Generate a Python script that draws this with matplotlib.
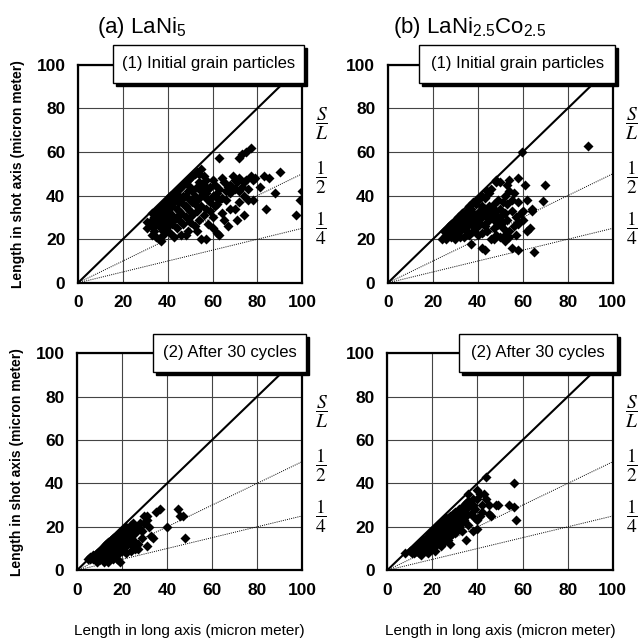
import matplotlib
matplotlib.use("Agg")
import matplotlib.pyplot as plt
from matplotlib.patches import Rectangle
import numpy as np

plt.rcParams['font.family'] = ['Liberation Sans', 'DejaVu Sans']
plt.rcParams['mathtext.fontset'] = 'stix'

# (a) LaNi5, initial grain particles: long axis / short axis (micron meter)
a1_pts = [
    (33, 32), (34, 30), (35, 33), (36, 34), (37, 35), (38, 36), (39, 37), (40, 38), (41, 40), (42, 39),
    (43, 41), (44, 42), (45, 43), (46, 44), (47, 45), (48, 46), (49, 47), (50, 48), (51, 49), (52, 50),
    (53, 51), (54, 50), (55, 52), (56, 49),
    (32, 28), (33, 26), (34, 24), (35, 27), (36, 29), (37, 31), (38, 28), (39, 30), (40, 33), (41, 35),
    (42, 31), (43, 29), (44, 34), (45, 37), (46, 32), (47, 36), (48, 40), (49, 34), (50, 38), (51, 42),
    (52, 36), (53, 44), (54, 39), (55, 35), (56, 45), (57, 41), (58, 38), (59, 44), (60, 47), (61, 40),
    (62, 36), (63, 43), (64, 39), (65, 46), (66, 38), (67, 44), (68, 41), (69, 49), (70, 43), (71, 46),
    (72, 42), (73, 44), (74, 40), (75, 47), (76, 43), (77, 49), (78, 47), (79, 48),
    (31, 25), (31, 28), (33, 22), (35, 21), (36, 20), (37, 19), (38, 24), (40, 26), (41, 23), (42, 27),
    (44, 25), (45, 29), (46, 22), (47, 27), (48, 30), (49, 24), (50, 28), (51, 31), (52, 26), (53, 33),
    (54, 29), (55, 20), (56, 31), (57, 20), (58, 27), (59, 33), (60, 30), (61, 35), (62, 23), (63, 22),
    (64, 32), (65, 29), (67, 26), (68, 34), (70, 34), (71, 29), (72, 37), (74, 31), (76, 38),
    (34, 28), (35, 30), (36, 26), (37, 28), (38, 33), (39, 25), (40, 29), (41, 31), (42, 35), (43, 37),
    (44, 30), (45, 33), (46, 38), (47, 40), (48, 35), (49, 42), (50, 44), (51, 37), (52, 40), (53, 38),
    (54, 46), (55, 42), (56, 40), (57, 47), (58, 43), (59, 37), (60, 40), (61, 45), (62, 41), (63, 38),
    (64, 48), (66, 42), (68, 45), (70, 47), (72, 48), (74, 46), (38, 22), (43, 21), (39, 34), (44, 38),
    (50, 33), (53, 24), (57, 34), (60, 25), (48, 22), (45, 40),
    (63, 57), (72, 57), (73, 59), (75, 60), (77, 62), (81, 44), (83, 49), (84, 34), (85, 48), (88, 41),
    (90, 51), (97, 31), (99, 38), (100, 42), (78, 38),
]

# (b) LaNi2.5Co2.5, initial grain particles
b1_pts = [
    (25, 24), (26, 22), (27, 25), (28, 27), (29, 26), (30, 28), (31, 30), (32, 29), (33, 32), (34, 31),
    (35, 33), (36, 35), (37, 34), (38, 37), (39, 36), (40, 38), (41, 39), (42, 40), (43, 39), (44, 42),
    (45, 41), (46, 43), (48, 46), (50, 46),
    (26, 20), (27, 23), (28, 21), (29, 24), (30, 22), (31, 26), (32, 24), (33, 27), (34, 25), (35, 29),
    (36, 27), (37, 30), (38, 28), (39, 31), (40, 29), (41, 33), (42, 30), (43, 34), (44, 32), (45, 35),
    (46, 31), (47, 36), (48, 33), (49, 38), (50, 34), (51, 37), (52, 40), (53, 36), (54, 42), (55, 38),
    (56, 41), (58, 37), (59, 32), (60, 33), (62, 38), (64, 34),
    (30, 25), (31, 23), (32, 27), (33, 30), (34, 28), (35, 26), (36, 30), (37, 27), (38, 32), (39, 28),
    (40, 32), (41, 27), (42, 35), (43, 31), (44, 28), (45, 30), (46, 34), (47, 29), (48, 31), (49, 27),
    (50, 30), (51, 28), (52, 32), (53, 29), (55, 33), (57, 30), (58, 27), (56, 26), (54, 24), (52, 22),
    (50, 21), (48, 22), (46, 20), (44, 24), (42, 23), (40, 22), (38, 24), (36, 22), (34, 21), (32, 21),
    (30, 20), (35, 24), (39, 25), (43, 26), (47, 25), (51, 25),
    (24, 20), (27, 26), (37, 18), (42, 16), (43, 15), (47, 20), (52, 19), (54, 21), (55, 16), (58, 15),
    (60, 29), (62, 24), (63, 25), (64, 33), (65, 14), (58, 28), (57, 22), (61, 45), (58, 48), (54, 47),
    (48, 47), (53, 45),
    (59.5, 60), (89, 62.5), (70, 45), (69, 37.5),
]

# (a) LaNi5, after 30 cycles
a2_pts = [
    (5, 5), (6, 6), (6, 5), (7, 6), (7, 5), (7, 7), (8, 7), (8, 6), (8, 5), (9, 8), (9, 7), (9, 6),
    (9, 5), (10, 9), (10, 8), (10, 7), (10, 6), (10, 5), (11, 10), (11, 8), (11, 7), (11, 6), (11, 5),
    (12, 11), (12, 9), (12, 8), (12, 7), (12, 6), (12, 4), (13, 12), (13, 10), (13, 9), (13, 7), (13, 5),
    (14, 13), (14, 11), (14, 10), (14, 8), (14, 6), (15, 14), (15, 12), (15, 10), (15, 9), (15, 7),
    (16, 15), (16, 13), (16, 11), (16, 9), (16, 7), (17, 14), (17, 12), (17, 10), (17, 8), (18, 16),
    (18, 14), (18, 12), (18, 9), (18, 5), (19, 17), (19, 15), (19, 13), (19, 10), (20, 18), (20, 16),
    (20, 14), (20, 11), (20, 9), (21, 19), (21, 17), (21, 15), (21, 12), (22, 20), (22, 17), (22, 14),
    (22, 11), (23, 18), (23, 15), (23, 13), (24, 21), (24, 19), (24, 16), (24, 12), (25, 22), (25, 18),
    (25, 14), (26, 20), (26, 17), (27, 20), (27, 12), (28, 22), (28, 19), (29, 18), (30, 22), (30, 25),
    (31, 25), (31, 23), (31, 11), (32, 20), (33, 16), (34, 15), (35, 27), (37, 28), (40, 20), (45, 28),
    (46, 25), (47, 25), (48, 15), (26, 10), (27, 10), (19, 4), (14, 4), (9, 4), (16, 5), (22, 8),
    (24, 9), (29, 15), (18, 7),
]

# (b) LaNi2.5Co2.5, after 30 cycles
b2_pts = [
    (8, 8), (10, 9), (11, 8), (12, 10), (12, 8), (13, 11), (13, 9), (14, 12), (14, 10), (14, 8),
    (15, 13), (15, 11), (15, 9), (16, 14), (16, 12), (16, 10), (17, 15), (17, 13), (17, 11), (17, 9),
    (18, 16), (18, 14), (18, 12), (18, 10), (19, 17), (19, 15), (19, 13), (19, 11), (20, 18), (20, 16),
    (20, 14), (20, 12), (20, 10), (21, 19), (21, 17), (21, 15), (21, 13), (21, 11), (22, 20), (22, 18),
    (22, 16), (22, 14), (22, 12), (23, 21), (23, 19), (23, 17), (23, 15), (23, 13), (24, 22), (24, 20),
    (24, 18), (24, 16), (24, 14), (24, 11), (25, 23), (25, 19), (25, 17), (25, 13), (26, 24), (26, 21),
    (26, 18), (26, 15), (27, 24), (27, 20), (27, 17), (28, 25), (28, 22), (28, 19), (28, 16), (29, 26),
    (29, 23), (29, 20), (30, 27), (30, 24), (30, 21), (30, 17), (31, 25), (31, 22), (31, 19), (32, 28),
    (32, 24), (32, 20), (33, 26), (33, 22), (34, 30), (34, 27), (34, 23), (35, 31), (35, 28), (35, 25),
    (35, 14), (36, 35), (36, 32), (36, 29), (36, 21), (37, 30), (37, 26), (38, 33), (38, 30), (38, 18),
    (39, 28), (39, 24), (40, 37), (40, 33), (40, 23), (40, 19), (41, 35), (41, 25), (42, 30), (42, 27),
    (43, 35), (44, 43), (44, 33), (45, 30), (45, 26), (46, 25), (48, 30), (49, 30), (54, 30), (56, 40),
    (56, 29), (57, 23), (28, 12), (27, 14), (33, 18), (18, 8), (21, 9), (15, 7),
]

titles = [r"(a) LaNi$\mathregular{_5}$", r"(b) LaNi$\mathregular{_{2.5}}$Co$\mathregular{_{2.5}}$"]
box_labels = ["(1) Initial grain particles", "(2) After 30 cycles"]
ticks = [0, 20, 40, 60, 80, 100]
ratios = [1, 0.5, 0.25]
ratio_labels = [r"$\dfrac{S}{L}$", r"$\dfrac{1}{2}$", r"$\dfrac{1}{4}$"]
ratio_label_y = [73, 48.5, 25]

fig = plt.figure(figsize=(6.39, 6.40), dpi=100)
positions = [
    [0.122, 0.558, 0.351, 0.341],
    [0.607, 0.558, 0.352, 0.341],
    [0.1205, 0.109, 0.352, 0.339],
    [0.606, 0.109, 0.353, 0.339],
]
data = [a1_pts, b1_pts, a2_pts, b2_pts]
# box extents (x0, width) in data units
boxes = [(15.5, 85.5), (14, 87), (34, 68), (32, 70)]

for i, (pos, pts) in enumerate(zip(positions, data)):
    ax = fig.add_axes(pos)
    ax.set_xlim(0, 100)
    ax.set_ylim(0, 100)
    ax.set_xticks(ticks)
    ax.set_yticks(ticks)
    ax.grid(True, color='#444444', linewidth=0.8)
    ax.tick_params(length=0, pad=9, labelsize=12.5)
    for lab in ax.get_xticklabels() + ax.get_yticklabels():
        lab.set_fontweight('bold')
    for sp in ax.spines.values():
        sp.set_linewidth(1.6)

    xs = np.array([0, 100])
    ax.plot(xs, xs * ratios[0], color='black', linewidth=1.5, zorder=3)
    ax.plot(xs, xs * ratios[1], color='black', linestyle=(0, (1, 1.2)), linewidth=0.7, zorder=3)
    ax.plot(xs, xs * ratios[2], color='black', linestyle=(0, (1, 1.2)), linewidth=0.7, zorder=3)

    p = np.array(pts, dtype=float)
    ax.scatter(p[:, 0], p[:, 1], marker='D', s=26, color='black', linewidths=0, zorder=4)

    for lab, yy in zip(ratio_labels, ratio_label_y):
        ax.text(108.5, yy, lab, fontsize=14, ha='center', va='center', clip_on=False)

    x0, w = boxes[i]
    ax.add_patch(Rectangle((x0 + 1.3, 91.5 - 1.3), w, 17.5, facecolor='black',
                           edgecolor='black', clip_on=False, zorder=5))
    ax.add_patch(Rectangle((x0, 91.5), w, 17.5, facecolor='white', edgecolor='black',
                           linewidth=1.0, clip_on=False, zorder=6))
    ax.text(x0 + w / 2, 100.3, box_labels[i // 2], fontsize=12, ha='center', va='center',
            zorder=7, clip_on=False)

    if i % 2 == 0:
        ax.set_ylabel("Length in shot axis (micron meter)", fontsize=10, fontweight='bold', labelpad=8)
    if i >= 2:
        ax.set_xlabel("Length in long axis (micron meter)", fontsize=11, labelpad=19)

fig.text(97 / 639, 1 - 28 / 640, titles[0], fontsize=16, ha='left', va='center')
fig.text(393 / 639, 1 - 28 / 640, titles[1], fontsize=16, ha='left', va='center')

fig.savefig("out.png", dpi=100)
